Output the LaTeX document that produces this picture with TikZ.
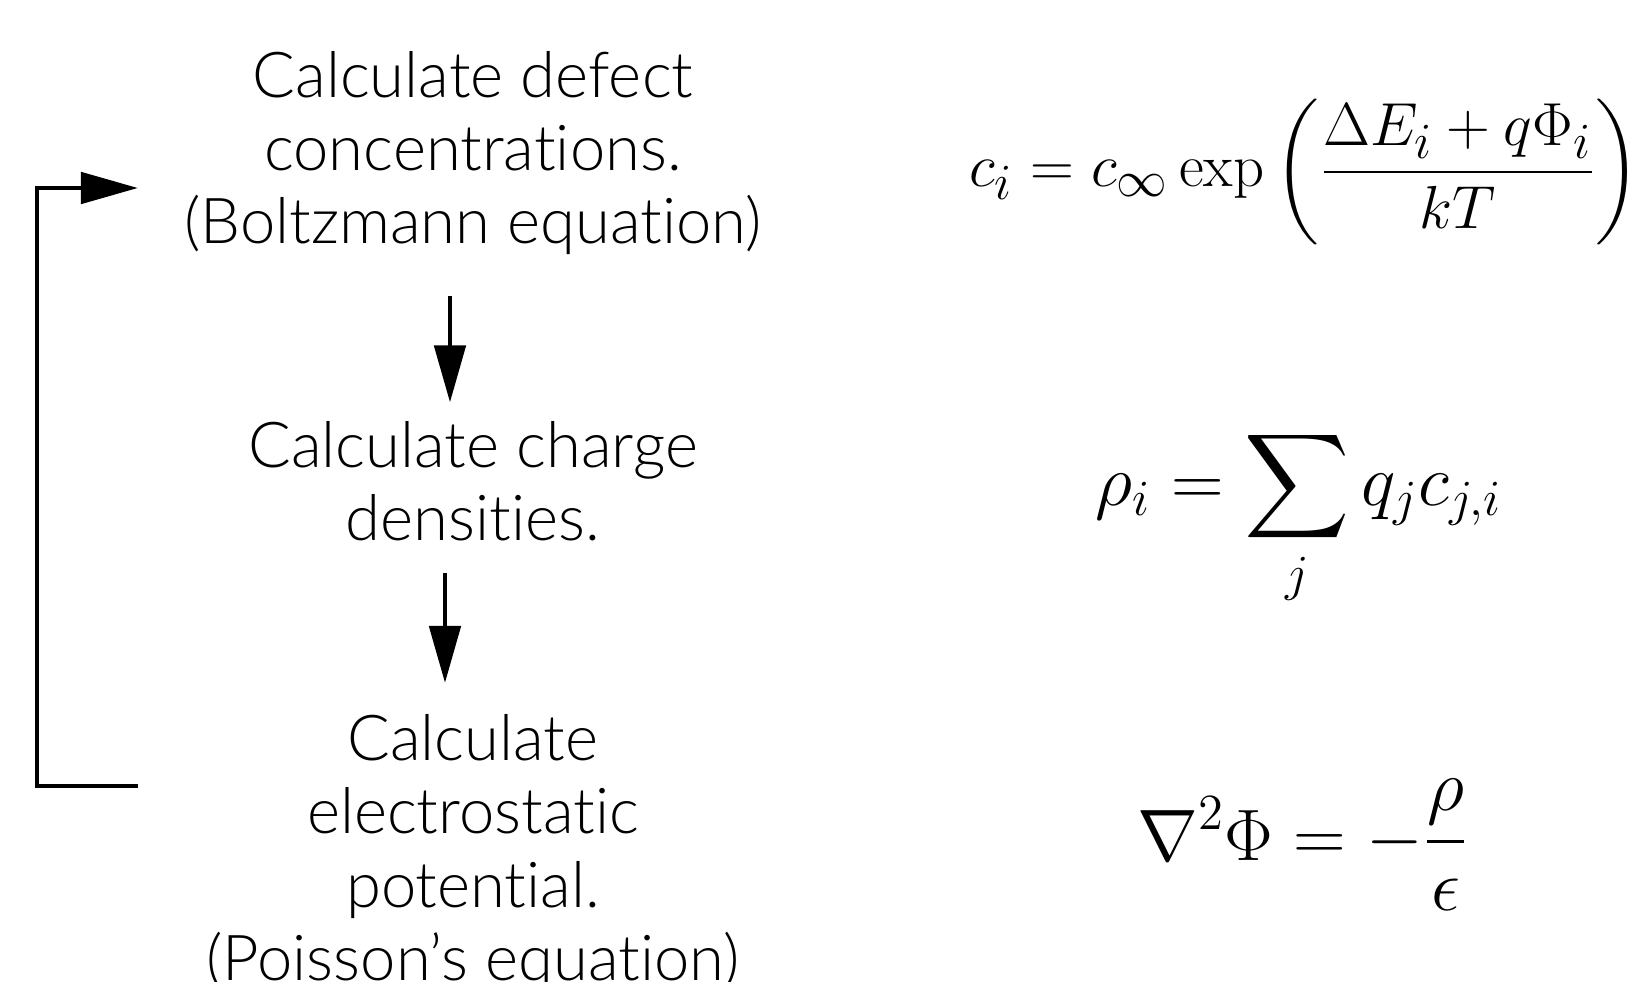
\documentclass[tikz,border=0pt]{standalone}
\usepackage{amsmath}
\usepackage[no-math]{fontspec}
\setmainfont{Lato Light}[Ligatures={NoCommon,NoDiscretionary,NoContextual}]
\usetikzlibrary{arrows.meta}
\tikzset{
  steptext/.style={align=center, inner sep=0pt, font=\fontsize{18}{20.8}\selectfont},
  eqn/.style={inner sep=0pt, anchor=base, font=\fontsize{19}{23}\selectfont},
  bigeqn/.style={eqn, font=\fontsize{21}{26}\selectfont},
  flow/.style={line width=1.4pt, -{Triangle[length=5.7mm, width=3.1mm]}}
}
\begin{document}
\begin{tikzpicture}[x=0.01cm, y=-0.01cm, line join=miter]
  \useasboundingbox (0,0) rectangle (1642,982);
  % left column: the iteration steps
  \node[steptext] (defect) at (473,153) {Calculate defect\\concentrations.\\(Boltzmann equation)};
  \node[steptext] (charge) at (473,481) {Calculate charge\\densities.};
  \node[steptext] (potential) at (473,853) {Calculate\\electrostatic\\potential.\\(Poisson's equation)};
  % right column: the equations
  \node[eqn] (eqc) at (1305,187) {$\displaystyle c_i = c_\infty \exp\left(\frac{\Delta E_i + q\Phi_i}{kT}\right)$};
  \node[bigeqn] (eqrho) at (1299,505) {$\displaystyle \rho_i = \sum_j q_j c_{j,i}$};
  \node[bigeqn, font=\fontsize{20.5}{25}\selectfont] (eqphi) at (1303,860) {$\displaystyle \nabla^2\Phi = -\frac{\rho}{\epsilon}$};
  % arrows between the steps
  \draw[flow, shorten <=0.41cm, shorten >=0.18cm] ([xshift=-0.23cm]defect.south) -- ([xshift=-0.23cm]charge.north);
  \draw[flow, shorten <=0.31cm, shorten >=0.31cm] ([xshift=-0.28cm]charge.south) -- ([xshift=-0.28cm]potential.north);
  % feedback loop
  \coordinate (fb) at (138,786);
  \coordinate (ft) at (138,188);
  \draw[flow] (fb) -- ++(-101,0) |- (ft);
\end{tikzpicture}
\end{document}
